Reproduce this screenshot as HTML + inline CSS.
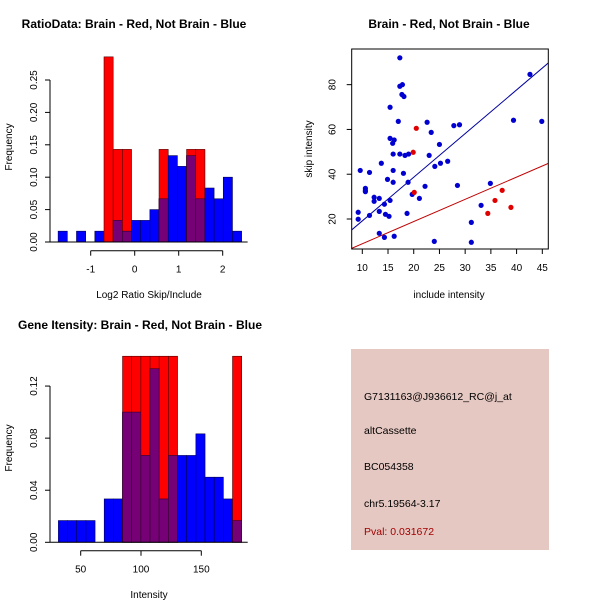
<!DOCTYPE html>
<html><head><meta charset="utf-8"><style>
html,body{margin:0;padding:0;background:#fff;}
svg{display:block;font-family:"Liberation Sans",sans-serif;}
</style></head><body>
<svg id="c" width="600" height="600" viewBox="0 0 600 600">
<text x="134" y="28" font-size="12" font-weight="bold" text-anchor="middle">RatioData: Brain - Red, Not Brain - Blue</text>
<text x="449" y="28" font-size="12" font-weight="bold" text-anchor="middle">Brain - Red, Not Brain - Blue</text>
<text x="140" y="329" font-size="12" font-weight="bold" text-anchor="middle">Gene Itensity: Brain - Red, Not Brain - Blue</text>
<text x="149" y="298" font-size="10" text-anchor="middle">Log2 Ratio Skip/Include</text>
<text x="12" y="147" font-size="10" text-anchor="middle" transform="rotate(-90 12 147)">Frequency</text>
<text x="449" y="298" font-size="10" text-anchor="middle">include intensity</text>
<text x="312" y="149" font-size="10" text-anchor="middle" transform="rotate(-90 312 149)">skip intensity</text>
<text x="149" y="598" font-size="10" text-anchor="middle">Intensity</text>
<text x="12" y="448" font-size="10" text-anchor="middle" transform="rotate(-90 12 448)">Frequency</text>
<g>
<rect x="351" y="349" width="198" height="201" fill="#e6c8c2"/>
<text x="364" y="400" font-size="10.5">G7131163@J936612_RC@j_at</text>
<text x="364" y="434" font-size="10.5">altCassette</text>
<text x="364" y="470" font-size="10.5">BC054358</text>
<text x="364" y="507" font-size="10.5">chr5.19564-3.17</text>
<text x="364" y="535" font-size="10.5" fill="#a00000">Pval: 0.031672</text>
</g>
</svg>
<script>
// Ratio histogram data
const ratioBreakStart = -1.74;
const ratioBinWidth = 0.2085;
const ratioBlue = [0.0167,0,0.0167,0,0.0167,0,0.0333,0.0167,0.0333,0.0333,0.05,0.0667,0.1333,0.1167,0.1333,0.0667,0.0833,0.0667,0.1,0.0167];
const ratioRed  = [0,0,0,0,0,0.2857,0.1429,0.1429,0,0,0,0.1429,0,0,0.1429,0.1429,0,0,0,0];
const ratioXTicks = [-1,0,1,2];
const ratioYTicks = ["0.00","0.05","0.10","0.15","0.20","0.25"];
// Intensity histogram data
const intBreakStart = 31.5;
const intBinWidth = 7.6;
const intBlue = [0.0167,0.0167,0.0167,0.0167,0,0.0333,0.0333,0.1,0.1,0.0667,0.1333,0.0333,0.0667,0.0667,0.0667,0.0833,0.05,0.05,0.0333,0.0167];
const intRed  = [0,0,0,0,0,0,0,0.1429,0.1429,0.1429,0.1429,0.1429,0.1429,0,0,0,0,0,0,0.1429];
const intXTicks = [50,100,150];
const intYTicks = ["0.00","0.04","0.08","0.12"];
// Scatter data
const blueX = [17.3,17.3,17.8,17.7,18.1,15.4,17.0,22.6,23.4,15.4,16.2,15.9,25.0,16.0,17.3,18.3,19.0,23.0,27.8,28.9,39.4,44.9,42.6,9.6,11.4,13.7,16.0,18.0,24.1,25.2,26.6,14.9,16.0,18.9,22.2,28.5,34.9,10.6,10.6,10.6,19.7,21.1,12.3,12.3,13.3,15.4,14.3,33.1,9.2,9.2,11.4,13.3,14.5,15.2,18.7,31.2,31.2,13.3,14.3,16.2,24.0];
const blueY = [92,79.3,80,75.6,74.7,69.9,63.6,63.2,58.7,56,55.3,53.8,53.3,49,49,48.4,49,48.4,61.7,62.1,64.1,63.6,84.6,41.7,40.8,44.9,41.7,40.4,43.5,44.9,45.8,37.7,36.4,36.4,34.6,35.0,35.9,33.7,32.8,32.2,31.0,29.2,29.7,27.9,29.2,28.3,26.6,26.1,23.0,19.9,21.6,23.4,22.1,21.2,22.5,18.5,9.6,13.6,11.8,12.3,10.0];
const redX = [20.5,19.9,20.1,34.4,35.8,37.2,38.9];
const redY = [60.5,49.8,31.9,22.5,28.3,32.8,25.2];
const blueFit = [-0.35,1.95]; // intercept, slope
const redFit = [-0.97,0.992];
const scXTicks = [10,15,20,25,30,35,40,45];
const scYTicks = [20,40,60,80];

const NS="http://www.w3.org/2000/svg";
const svg=document.getElementById('c');
function mk(tag,attrs,parent){const e=document.createElementNS(NS,tag);for(const k in attrs)e.setAttribute(k,attrs[k]);(parent||svg).appendChild(e);return e;}

function hist(o){
  const g=mk('g',{});
  
  
  const px=v=>o.x0+(v-o.xv0)*o.xs, py=v=>o.y0-v*o.ys;
  for(let i=0;i<o.blue.length;i++){
    const xa=px(o.bs+i*o.bw), xb=px(o.bs+(i+1)*o.bw);
    const b=o.blue[i], r=o.red[i], m=Math.min(b,r);
    if(b>0){const e=mk('rect',{x:xa,y:py(b),width:xb-xa,height:py(0)-py(b),fill:'#0000ff',stroke:'#000050','stroke-width':0.6},g);
      }
    if(r>0){const e=mk('rect',{x:xa,y:py(r),width:xb-xa,height:py(0)-py(r),fill:'#ff0000',stroke:'#500000','stroke-width':0.6},g);
      }
    if(m>0){const e=mk('rect',{x:xa,y:py(m),width:xb-xa,height:py(0)-py(m),fill:'#760076',stroke:'#300030','stroke-width':0.6},g);
      }
  }
  const yt=o.yticks.map(Number);
  const ya=mk('g',{});
  
  mk('line',{x1:o.yax,x2:o.yax,y1:py(yt[0]),y2:py(yt[yt.length-1]),stroke:'#000'},ya);
  o.yticks.forEach((t,i)=>{const y=py(yt[i]);
    mk('line',{x1:o.yax-5,x2:o.yax,y1:y,y2:y,stroke:'#000'},ya);
    const tx=mk('text',{x:o.yax-13,y:y,'font-size':10,'text-anchor':'middle',transform:`rotate(-90 ${o.yax-13} ${y})`},ya);tx.textContent=t;});
  const xa=mk('g',{});
  
  const xt=o.xticks;
  mk('line',{x1:px(xt[0]),x2:px(xt[xt.length-1]),y1:o.xay,y2:o.xay,stroke:'#000'},xa);
  xt.forEach(t=>{const x=px(t);
    mk('line',{x1:x,x2:x,y1:o.xay,y2:o.xay+5,stroke:'#000'},xa);
    const tx=mk('text',{x:x,y:o.xay+22,'font-size':10,'text-anchor':'middle'},xa);tx.textContent=t;});
  mk('line',{x1:o.yax,x2:px(o.bs+o.blue.length*o.bw)+6,y1:py(0),y2:py(0),stroke:'#000'},g);
}
hist({name:'ratio-histogram',blue:ratioBlue,red:ratioRed,bs:ratioBreakStart,bw:ratioBinWidth,x0:90.7,xv0:-1,xs:44,y0:242,ys:648,yax:50,xay:250.7,xticks:ratioXTicks,yticks:ratioYTicks});
hist({name:'intensity-histogram',blue:intBlue,red:intRed,bs:intBreakStart,bw:intBinWidth,x0:80.7,xv0:50,xs:1.206,y0:542.3,ys:1302,yax:50,xay:550.7,xticks:intXTicks,yticks:intYTicks});

// Scatter
(function(){
  const L=351.7,R=548.3,T=49,B=249;
  const sx=v=>362.3+(v-10)*5.143, sy=v=>219-(v-20)*2.239;
  const g=mk('g',{});
  
  const cp=mk('clipPath',{id:'scclip'},g);mk('rect',{x:L,y:T,width:R-L,height:B-T},cp);
  const lines=mk('g',{'clip-path':'url(#scclip)'},g);
  [[blueFit,'#0000a0','blue-fit-line'],[redFit,'#c00000','red-fit-line']].forEach(([f,c,n])=>{
    const x1=5,x2=50;
    const e=mk('line',{x1:sx(x1),y1:sy(f[0]+f[1]*x1),x2:sx(x2),y2:sy(f[0]+f[1]*x2),stroke:c,'stroke-width':1},lines);
    });
  blueX.forEach((x,i)=>{const e=mk('circle',{cx:sx(x),cy:sy(blueY[i]),r:2.6,fill:'#0000d0'},g);
    });
  redX.forEach((x,i)=>{const e=mk('circle',{cx:sx(x),cy:sy(redY[i]),r:2.6,fill:'#e00000'},g);
    });
  mk('rect',{x:L,y:T,width:R-L,height:B-T,fill:'none',stroke:'#000'},g);
  const xa=mk('g',{});
  scXTicks.forEach(t=>{const x=sx(t);mk('line',{x1:x,x2:x,y1:B,y2:B+5,stroke:'#000'},xa);
    const tx=mk('text',{x:x,y:B+22,'font-size':10,'text-anchor':'middle'},xa);tx.textContent=t;});
  const ya=mk('g',{});
  scYTicks.forEach(t=>{const y=sy(t);mk('line',{x1:L-5,x2:L,y1:y,y2:y,stroke:'#000'},ya);
    const tx=mk('text',{x:L-16,y:y,'font-size':10,'text-anchor':'middle',transform:`rotate(-90 ${L-16} ${y})`},ya);tx.textContent=t;});
})();
</script>
</body></html>
